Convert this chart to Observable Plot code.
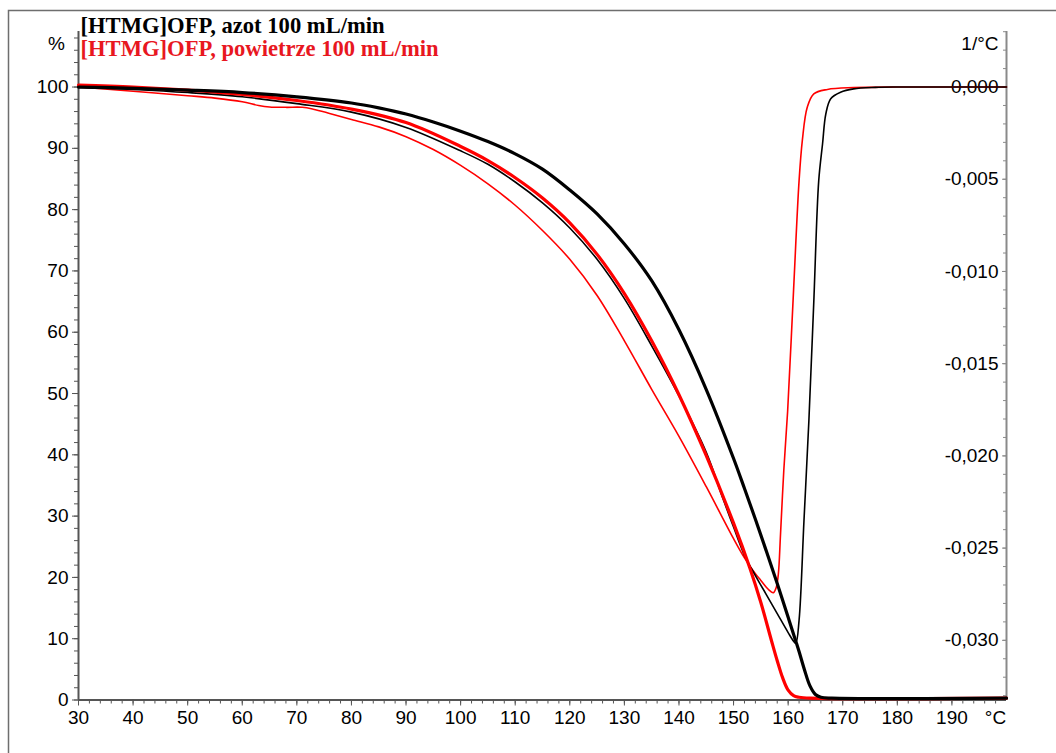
<!DOCTYPE html>
<html>
<head>
<meta charset="utf-8">
<script src="https://cdn.jsdelivr.net/npm/d3@7"></script>
<script src="https://cdn.jsdelivr.net/npm/@observablehq/plot@0.6"></script>
<style>
html,body{margin:0;padding:0;background:#fff;overflow:hidden;}
</style>
</head>
<body>
<div id="chart"></div>
<script>
// ---- Data ----
// TG, [HTMG]OFP under nitrogen (thick black), mass %
const tgN2Temp = [30,40,50,60,70,80,85,90,95,100,105,110,115,120,125,130,135,140,145,150,152,154,156,158,160,161.4,162,163,164,165,166,168,200];
const tgN2Mass = [100.0,99.8,99.5,99.1,98.4,97.4,96.6,95.6,94.3,92.8,91.1,89.1,86.6,83.2,79.3,74.4,68.4,60.4,50.65,39.4,34.5,29.5,24.3,19.0,13.5,9.6,7.9,4.9,2.3,0.9,0.45,0.3,0.3];

// TG, [HTMG]OFP under air (thick red), mass %
const tgAirTemp = [30,40,50,60,70,80,90,100,105,110,115,120,125,130,135,140,145,150,153,155,157,158,159,160,161,162,164,200];
const tgAirMass = [100.3,100.0,99.5,98.8,97.8,96.4,94.2,90.3,88.0,85.2,81.9,77.85,72.7,66.3,58.6,49.8,39.85,28.85,21.5,15.9,9.5,6.4,3.6,1.6,0.7,0.45,0.3,0.3];

// DTG under nitrogen (thin black), 1/°C
const dtgN2Temp = [30,40,50,60,70,80,90,100,105,110,115,120,125,130,135,140,145,148,150,152,154,156,158,160,161,161.4,162,162.9,163.8,164.7,165.6,166.3,166.9,167.8,169.6,172,176,180,200];
const dtgN2Rate = [0,-0.00013,-0.00030,-0.00053,-0.00090,-0.00136,-0.00219,-0.00346,-0.00419,-0.00515,-0.00628,-0.00764,-0.00934,-0.01147,-0.01403,-0.01675,-0.01981,-0.02227,-0.02386,-0.02539,-0.02649,-0.02752,-0.02855,-0.02958,-0.03005,-0.03016,-0.02892,-0.02350,-0.01808,-0.01163,-0.00509,-0.00309,-0.00146,-0.00063,-0.00028,-0.00010,-0.00002,0,0];

// DTG under air (thin red), 1/°C
const dtgAirTemp = [30,40,50,55,60,63,65,68,71,73,76,80,85,90,95,100,105,110,115,120,125,130,135,140,145,150,152,154,155,156,156.8,157.3,157.8,158.2,158.6,159.2,159.9,161,162,162.6,163.5,164.7,167.2,172,180,200];
const dtgAirRate = [0,-0.00023,-0.00047,-0.00060,-0.00080,-0.00100,-0.00108,-0.00110,-0.00110,-0.00120,-0.00143,-0.00176,-0.00216,-0.00269,-0.00339,-0.00425,-0.00525,-0.00641,-0.00778,-0.00934,-0.01130,-0.01376,-0.01639,-0.01894,-0.02167,-0.02449,-0.02553,-0.02639,-0.02675,-0.02712,-0.02735,-0.02742,-0.02715,-0.02642,-0.02426,-0.02081,-0.01761,-0.01097,-0.00509,-0.00289,-0.00110,-0.00037,-0.00013,-0.00003,0,0];

// Axes / ticks
const xTicks = [30,40,50,60,70,80,90,100,110,120,130,140,150,160,170,180,190];
const yTicks = [0,10,20,30,40,50,60,70,80,90,100];
const dtgTicks = [0,-0.005,-0.010,-0.015,-0.020,-0.025,-0.030];
const legendLabels = ["[HTMG]OFP, azot 100 mL/min", "[HTMG]OFP, powietrze 100 mL/min"];
const xDomain = [30, 200];
const yDomain = [0, 109.06];
const dtgScale = 3008.8; // % of left axis per 1/°C (right axis shares the vertical scale)

// ---- Build tables ----
const toPct = d => 100 + d * dtgScale;
const fromPct = p => (p - 100) / dtgScale;
const tgN2 = tgN2Temp.map((t, i) => ({t, v: tgN2Mass[i]}));
const tgAir = tgAirTemp.map((t, i) => ({t, v: tgAirMass[i]}));
const dtgN2 = dtgN2Temp.map((t, i) => ({t, v: toPct(dtgN2Rate[i])}));
const dtgAir = dtgAirTemp.map((t, i) => ({t, v: toPct(dtgAirRate[i])}));

const xMinor = d3.range(30, 200, 2);
const yMinor = d3.range(0, 109, 2);
const dtgMinor = d3.range(3, -34, -1).map(d => toPct(d / 1000));
const fmtDtg = v => d3.format(".3f")(v).replace("−", "-").replace(".", ",");

const RED = "#ff0000";
const AXIS = "#555";
const CURVE = "catmull-rom";

const chart = Plot.plot({
  width: 1056,
  height: 753,
  marginLeft: 78,
  marginRight: 50,
  marginTop: 31,
  marginBottom: 53.5,
  x: {domain: xDomain},
  y: {domain: yDomain},
  style: {fontFamily: "'Liberation Sans', Arial, sans-serif", fontSize: "19px", background: "white", color: "black"},
  marks: [
    // axis lines
    Plot.ruleX([xDomain[0]], {stroke: AXIS, strokeWidth: 2}),
    Plot.ruleX([xDomain[1]], {stroke: "#8a8a8a", strokeWidth: 2}),
    Plot.ruleY([yDomain[0]], {stroke: AXIS, strokeWidth: 2}),
    // bottom axis
    Plot.axisX(xMinor, {anchor: "bottom", tickSize: 4, stroke: AXIS, fill: "none", label: null}),
    Plot.axisX(xTicks, {anchor: "bottom", tickSize: 6, tickPadding: 4, stroke: AXIS, fill: "black", label: null, tickFormat: d => String(d)}),
    Plot.text(["°C"], {frameAnchor: "bottom-right", textAnchor: "middle", lineAnchor: "top", dx: -11, dy: 10, fill: "black"}),
    // left axis
    Plot.axisY(yMinor, {anchor: "left", tickSize: 4, stroke: AXIS, fill: "none", label: null}),
    Plot.axisY(yTicks, {anchor: "left", tickSize: 6, tickPadding: 4, stroke: AXIS, fill: "black", label: null, tickFormat: d => String(d)}),
    Plot.text(["%"], {frameAnchor: "top-left", textAnchor: "middle", dx: -22, dy: 5, fill: "black"}),
    // right axis (DTG)
    Plot.axisY(dtgMinor, {anchor: "right", tickSize: -4, stroke: "#8a8a8a", fill: "none", label: null}),
    Plot.axisY(dtgTicks.map(toPct), {anchor: "right", tickSize: -5, tickPadding: -3, textAnchor: "end", stroke: "#8a8a8a", fill: "black", label: null, tickFormat: p => fmtDtg(fromPct(p))}),
    Plot.text(["1/°C"], {frameAnchor: "top-right", textAnchor: "end", dx: -8, dy: 5, fill: "black"}),
    // curves
    Plot.line(dtgAir, {x: "t", y: "v", stroke: RED, strokeWidth: 1.6, curve: CURVE}),
    Plot.line(dtgN2, {x: "t", y: "v", stroke: "black", strokeWidth: 1.6, curve: CURVE}),
    Plot.line(tgAir, {x: "t", y: "v", stroke: RED, strokeWidth: 3.2, curve: CURVE}),
    Plot.line(tgN2, {x: "t", y: "v", stroke: "black", strokeWidth: 3.2, curve: CURVE}),
    // legend
    Plot.text([legendLabels[0]], {frameAnchor: "top-left", textAnchor: "start", lineAnchor: "middle", dx: 2, dy: -6, fill: "black", fontFamily: "'Liberation Serif', 'Times New Roman', serif", fontWeight: "bold", fontSize: 22.6}),
    Plot.text([legendLabels[1]], {frameAnchor: "top-left", textAnchor: "start", lineAnchor: "middle", dx: 2, dy: 17, fill: "#e8171f", fontFamily: "'Liberation Serif', 'Times New Roman', serif", fontWeight: "bold", fontSize: 22.6})
  ]
});

document.getElementById("chart").appendChild(chart);
// outer figure frame
d3.select(chart).insert("rect", ":first-child")
  .attr("x", 8.5).attr("y", 10.5).attr("width", 1200).attr("height", 900)
  .attr("fill", "none").attr("stroke", "#6e6e6e").attr("stroke-width", 1.5);
</script>
</body>
</html>
